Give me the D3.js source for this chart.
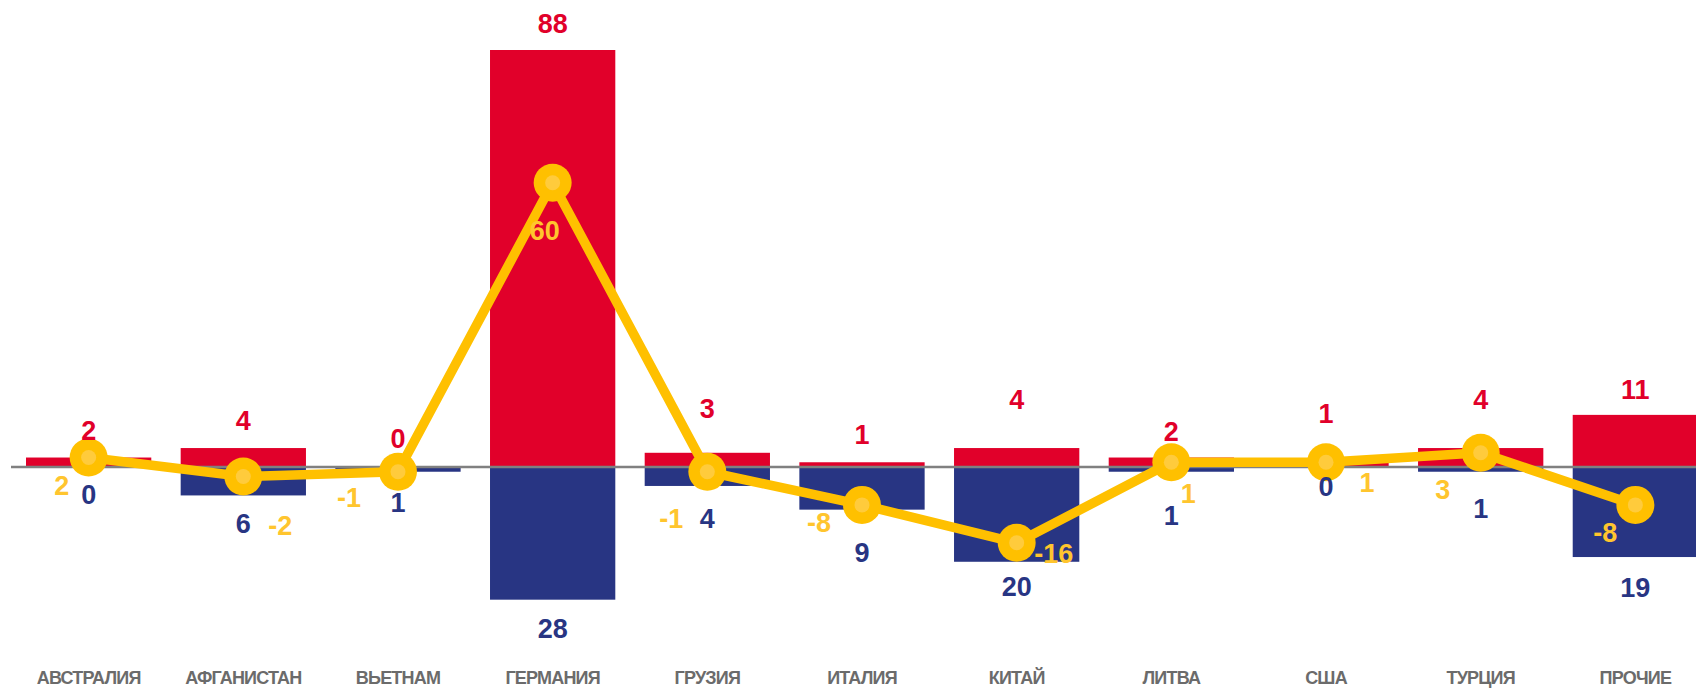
<!DOCTYPE html>
<html lang="ru">
<head>
  <meta charset="UTF-8">
  <title>Миграция по странам</title>
  <style>
  body {
    margin: 0;
    background: #fff;
  }

  #chart {
    display: block;
  }

  .value {
    font-family: "Liberation Sans", Arial, sans-serif;
    font-weight: bold;
    font-size: 27px;
    text-anchor: middle;
  }

  .cat {
    font-family: "Liberation Sans", Arial, sans-serif;
    font-weight: bold;
    font-size: 18px;
    letter-spacing: -0.8px;
    fill: #6b6b6b;
    text-anchor: middle;
  }
  </style>
</head>
<body>
  <svg id="chart"></svg>
<script src="https://d3js.org/d3.v7.min.js"></script>
<script>
// Data
const categories = ["АВСТРАЛИЯ", "АФГАНИСТАН", "ВЬЕТНАМ", "ГЕРМАНИЯ", "ГРУЗИЯ", "ИТАЛИЯ", "КИТАЙ", "ЛИТВА", "США", "ТУРЦИЯ", "ПРОЧИЕ"];
const arrived = [2, 4, 0, 88, 3, 1, 4, 2, 1, 4, 11];
const departed = [0, 6, 1, 28, 4, 9, 20, 1, 0, 1, 19];
const balance = [2, -2, -1, 60, -1, -8, -16, 1, 1, 3, -8];

// Label nudges (px) so the numbers don't collide
const redGap = [18, 18, 19, 17, 35, 18, 39, 17, 39, 39, 16];
const blueGap = [37, 38, 40, 38, 42, 52, 34, 53, 29, 46, 40];
const lineLabelDx = [-27, 37, -49, -8, -36, -43, 37, 17, 41, -38, -30];
const lineLabelDy = [37, 59, 35, 57, 56, 27, 20, 41, 30, 46, 37];

const width = 1696;
const height = 689;

const red = "#E1002A";
const blue = "#283583";
const yellow = "#FFC000";

const svg = d3.select("#chart")
  .attr("width", width)
  .attr("height", height);

const x = d3.scaleBand()
  .domain(categories)
  .range([26, 1698])
  .paddingInner(0.19)
  .paddingOuter(0);

const y = d3.scaleLinear()
  .domain([0, 88])
  .range([467, 50]);

const cx = i => x(categories[i]) + x.bandwidth() / 2;

// Red bars (up)
svg.append("g").selectAll("rect")
  .data(arrived)
  .enter()
  .append("rect")
  .attr("x", (d, i) => x(categories[i]))
  .attr("y", d => y(d))
  .attr("width", x.bandwidth())
  .attr("height", d => y(0) - y(d))
  .attr("fill", red);

// Blue bars (down)
svg.append("g").selectAll("rect")
  .data(departed)
  .enter()
  .append("rect")
  .attr("x", (d, i) => x(categories[i]))
  .attr("y", y(0))
  .attr("width", x.bandwidth())
  .attr("height", d => y(-d) - y(0))
  .attr("fill", blue);

// Zero line
svg.append("line")
  .attr("x1", 11)
  .attr("x2", width)
  .attr("y1", y(0))
  .attr("y2", y(0))
  .attr("stroke", "#808080")
  .attr("stroke-width", 2.7);

// Balance line
const line = d3.line()
  .x((d, i) => cx(i))
  .y(d => y(d));

svg.append("path")
  .datum(balance)
  .attr("d", line)
  .attr("fill", "none")
  .attr("stroke", yellow)
  .attr("stroke-width", 9.5)
  .attr("stroke-linejoin", "round");

const markers = svg.append("g").selectAll("g")
  .data(balance)
  .enter()
  .append("g")
  .attr("transform", (d, i) => `translate(${cx(i)},${y(d)})`);

markers.append("circle")
  .attr("r", 19)
  .attr("fill", yellow);

markers.append("circle")
  .attr("r", 7.5)
  .attr("fill", "#FFCB3C");

// Value labels
svg.append("g").selectAll("text")
  .data(arrived)
  .enter()
  .append("text")
  .attr("class", "value")
  .attr("x", (d, i) => cx(i))
  .attr("y", (d, i) => y(d) - redGap[i])
  .attr("fill", red)
  .text(d => d);

svg.append("g").selectAll("text")
  .data(departed)
  .enter()
  .append("text")
  .attr("class", "value")
  .attr("x", (d, i) => cx(i))
  .attr("y", (d, i) => y(-d) + blueGap[i])
  .attr("fill", blue)
  .text(d => d);

svg.append("g").selectAll("text")
  .data(balance)
  .enter()
  .append("text")
  .attr("class", "value")
  .attr("x", (d, i) => cx(i) + lineLabelDx[i])
  .attr("y", (d, i) => y(d) + lineLabelDy[i])
  .attr("fill", "#FFC52E")
  .text(d => d);

// Category labels
svg.append("g").selectAll("text")
  .data(categories)
  .enter()
  .append("text")
  .attr("class", "cat")
  .attr("x", (d, i) => cx(i))
  .attr("y", 684)
  .text(d => d);
</script>
</body>
</html>
